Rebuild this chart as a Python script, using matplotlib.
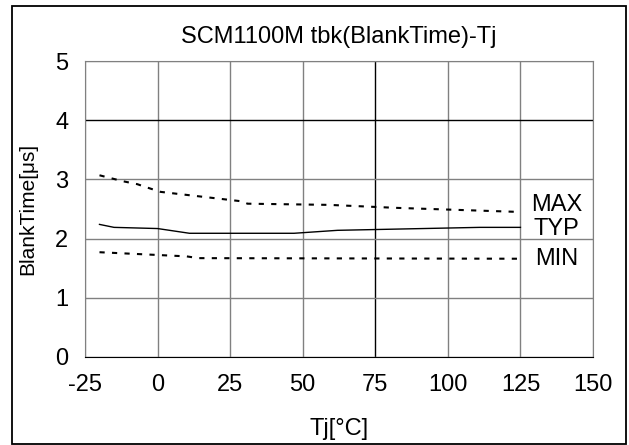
import matplotlib.pyplot as plt
from matplotlib.patches import Rectangle

plt.rcParams['font.family'] = ['Liberation Sans', 'DejaVu Sans']
plt.rcParams['axes.unicode_minus'] = False

# data
tj_max = [-20, -12, -7, -4, 1, 29, 31, 59, 82, 125]
bt_max = [3.07, 2.97, 2.92, 2.87, 2.79, 2.63, 2.59, 2.57, 2.52, 2.45]

tj_typ = [-20, -15, 0, 11, 47, 62, 111, 125]
bt_typ = [2.24, 2.19, 2.17, 2.09, 2.09, 2.14, 2.19, 2.19]

tj_min = [-20, 10, 14, 125]
bt_min = [1.77, 1.70, 1.67, 1.66]

x_ticks = [-25, 0, 25, 50, 75, 100, 125, 150]
y_ticks = [0, 1, 2, 3, 4, 5]

fig = plt.figure(figsize=(6.29, 4.45), dpi=100)
ax = fig.add_axes([0.1351, 0.1978, 0.8077, 0.665])

# outer frame around the whole figure
fig.patches.append(Rectangle((0.019, 0.002), 0.976, 0.985, transform=fig.transFigure,
                             fill=False, edgecolor='black', linewidth=1.3))

grid_c = '#808080'
for x in x_ticks:
    ax.axvline(x, color='black' if x == 75 else grid_c, linewidth=1.0, zorder=1)
for y in y_ticks:
    ax.axhline(y, color='black' if y == 4 else grid_c, linewidth=1.0, zorder=1)

dash = (0, (2.5, 3.5))
ax.plot(tj_max, bt_max, color='black', linestyle=dash, linewidth=1.5, zorder=3)
ax.plot(tj_typ, bt_typ, color='black', linewidth=1.0, zorder=3)
ax.plot(tj_min, bt_min, color='black', linestyle=dash, linewidth=1.5, zorder=3)

ax.text(137.5, 2.57, 'MAX', ha='center', va='center', fontsize=17)
ax.text(137.5, 2.17, 'TYP', ha='center', va='center', fontsize=17)
ax.text(137.5, 1.66, 'MIN', ha='center', va='center', fontsize=17)

ax.set_xlim(-25, 150)
ax.set_ylim(0, 5)
ax.set_xticks(x_ticks)
ax.set_yticks(y_ticks)
ax.tick_params(length=0, labelsize=17)
ax.tick_params(axis='x', pad=12)
ax.tick_params(axis='y', pad=12)
for s in ['top', 'right', 'left']:
    ax.spines[s].set_color(grid_c)
ax.spines['bottom'].set_color('black')

ax.set_title('SCM1100M tbk(BlankTime)-Tj', fontsize=17, pad=13)
ax.set_xlabel('Tj[°C]', fontsize=17, labelpad=16)
ax.set_ylabel('BlankTime[μs]', fontsize=15, labelpad=13)

fig.savefig('out.png', dpi=100)
